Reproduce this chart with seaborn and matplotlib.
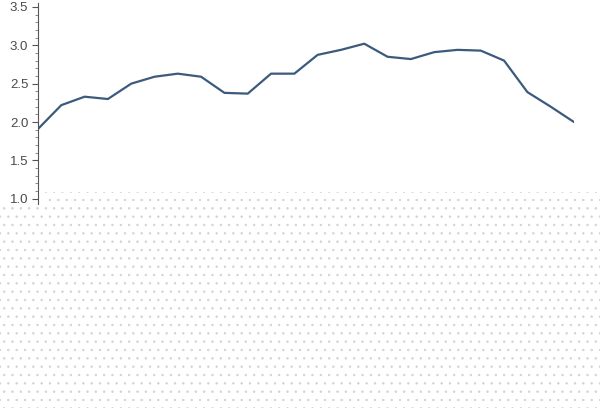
import numpy as np
import pandas as pd
import seaborn as sns
import matplotlib.pyplot as plt
from matplotlib.patches import Rectangle
from matplotlib.ticker import MultipleLocator

# values, one per step
steps = list(range(24))
values = [1.91, 2.22, 2.33, 2.30, 2.50, 2.59, 2.63, 2.59, 2.38, 2.37, 2.63, 2.63,
          2.875, 2.94, 3.02, 2.85, 2.82, 2.91, 2.94, 2.93, 2.80, 2.39, 2.20, 2.00]
y_ticks = [1.0, 1.5, 2.0, 2.5, 3.0, 3.5]

df = pd.DataFrame({'step': steps, 'value': values})

sns.set_style('white')
plt.rcParams['font.family'] = ['Liberation Sans', 'DejaVu Sans']
plt.rcParams['hatch.linewidth'] = 0.5

fig = plt.figure(figsize=(6, 4.08), dpi=100)
fig.patch.set_facecolor('white')

# faint dotted background in the lower part of the canvas
dots_kw = dict(transform=fig.transFigure, facecolor='white', edgecolor='#d2d2d2',
               hatch='..', linewidth=0, zorder=0)
fig.patches.append(Rectangle((0, 0), 1, 203 / 408, **dots_kw))
fig.patches.append(Rectangle((44 / 600, 0), 1 - 44 / 600, 216 / 408, **dots_kw))

ax = fig.add_axes([38 / 600, 203 / 408, 536 / 600, 202 / 408])
ax.patch.set_alpha(0)
sns.lineplot(data=df, x='step', y='value', ax=ax, color='#3c5a7d', linewidth=1.6)

ax.set_xlim(0, 23)
ax.set_ylim(0.92, 3.55)
ax.set_yticks(y_ticks)
ax.yaxis.set_minor_locator(MultipleLocator(0.1))
ax.set_xticks([])
ax.set_xlabel('')
ax.set_ylabel('')
for side in ['top', 'right', 'bottom']:
    ax.spines[side].set_visible(False)
ax.spines['left'].set_color('#555555')
ax.spines['left'].set_linewidth(0.8)
ax.tick_params(axis='y', which='major', left=True, length=4, width=0.8,
               color='#555555', labelcolor='#4a4a4a', labelsize=9.5, pad=3)
ax.tick_params(axis='y', which='minor', left=True, length=2, width=0.6,
               color='#777777')

fig.savefig('out.png', dpi=100)
